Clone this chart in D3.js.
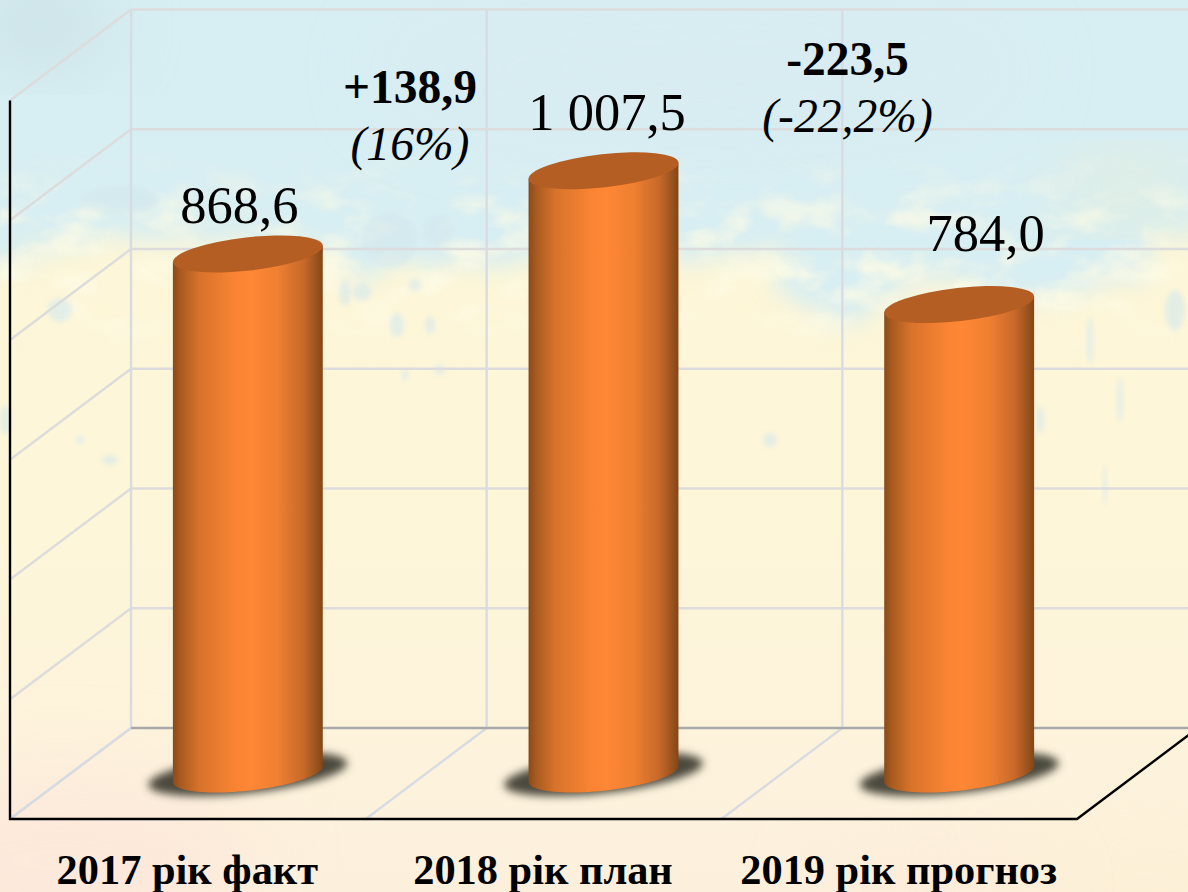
<!DOCTYPE html>
<html lang="uk">
<head>
<meta charset="utf-8">
<script src="https://cdn.jsdelivr.net/npm/d3@7"></script>
<style>
html,body{margin:0;padding:0;background:#fdf5dc;overflow:hidden}
svg{display:block}
text{font-family:"Liberation Serif","Times New Roman",serif;fill:#000}
</style>
</head>
<body>
<svg id="chart" width="1188" height="892"></svg>
<script>
// ---- data ----
const categories = ["2017 рік факт", "2018 рік план", "2019 рік прогноз"];
const values = [868.6, 1007.5, 784.0];
const valueLabels = ["868,6", "1 007,5", "784,0"];
const changeAbs = ["+138,9", "-223,5"];
const changePct = ["(16%)", "(-22,2%)"];
const gridTicks = [0, 200, 400, 600, 800, 1000, 1200];

// ---- layout ----
const W = 1188, H = 892;
const frontLeft = 10, frontRight = 1077, frontBase = 819;
const backDX = 121, backDY = 91;
const midDX = 60, midDY = 45;
const cyl = {a: 75.4, b: 16.6, rot: -6.4};

const svg = d3.select("#chart");
const defs = svg.append("defs");

const x = d3.scaleBand().domain(categories).range([frontLeft, frontRight]);
const yFront = d3.scaleLinear().domain([0, 1200]).range([frontBase, frontBase - 718.5]);
const yBack = v => yFront(v) - backDY;
const yMid = v => yFront(v) - midDY;
const cx = c => x(c) + x.bandwidth() / 2 + midDX;

// ---- background (painted texture approximated) ----
const bg = defs.append("linearGradient").attr("id", "bg").attr("x1", 0).attr("y1", 0).attr("x2", 0).attr("y2", 1);
[[0, "#fdf6d6"], [0.6, "#fdf6d9"], [0.85, "#fdf3dc"], [1, "#fcf0dc"]]
  .forEach(s => bg.append("stop").attr("offset", s[0]).attr("stop-color", s[1]));

const rough = defs.append("filter").attr("id", "rough")
  .attr("x", "-10%").attr("y", "-10%").attr("width", "120%").attr("height", "130%");
rough.append("feTurbulence").attr("type", "fractalNoise").attr("baseFrequency", "0.018 0.03")
  .attr("numOctaves", 4).attr("seed", 7).attr("result", "n");
rough.append("feDisplacementMap").attr("in", "SourceGraphic").attr("in2", "n")
  .attr("scale", 70).attr("xChannelSelector", "R").attr("yChannelSelector", "G").attr("result", "d");
rough.append("feGaussianBlur").attr("in", "d").attr("stdDeviation", 12);

const soft = defs.append("filter").attr("id", "soft")
  .attr("x", "-50%").attr("y", "-50%").attr("width", "200%").attr("height", "200%");
soft.append("feGaussianBlur").attr("stdDeviation", 40);

const blotBlur = defs.append("filter").attr("id", "blot")
  .attr("x", "-50%").attr("y", "-50%").attr("width", "200%").attr("height", "200%");
blotBlur.append("feGaussianBlur").attr("stdDeviation", 2.5);

const grain = defs.append("filter").attr("id", "grain")
  .attr("x", 0).attr("y", 0).attr("width", "100%").attr("height", "100%");
grain.append("feTurbulence").attr("type", "fractalNoise").attr("baseFrequency", "0.02 0.035")
  .attr("numOctaves", 5).attr("seed", 11);
grain.append("feColorMatrix").attr("type", "matrix")
  .attr("values", "0 0 0 0 0.98  0 0 0 0 0.96  0 0 0 0 0.78  3 0 0 0 -1.3");
grain.append("feGaussianBlur").attr("stdDeviation", 1.2);

const fade = defs.append("linearGradient").attr("id", "fade").attr("x1", 0).attr("x2", 0).attr("y1", 0).attr("y2", 1);
[[0, "#000"], [0.3, "#aaa"], [0.65, "#ccc"], [1, "#000"]]
  .forEach(s => fade.append("stop").attr("offset", s[0]).attr("stop-color", s[1]));
defs.append("mask").attr("id", "fadeMask").attr("maskUnits", "userSpaceOnUse")
  .attr("x", 0).attr("y", 150).attr("width", W).attr("height", 220)
  .append("rect").attr("x", 0).attr("y", 150).attr("width", W).attr("height", 220).attr("fill", "url(#fade)");

const bgG = svg.append("g").attr("class", "background");
bgG.append("rect").attr("width", W).attr("height", H).attr("fill", "url(#bg)");

const blueEdge = [[-80,-80],[1270,-80],[1270,205],[1188,220],[1110,280],[1000,300],[900,285],[830,315],[760,255],[640,250],[520,265],[440,265],[300,255],[180,240],[80,240],[-80,265]];
bgG.append("path").attr("d", d3.line().curve(d3.curveCatmullRomClosed)(blueEdge))
  .attr("fill", "#d7eef3").attr("filter", "url(#rough)");

const softPatches = [
  {x: 40, y: 25, rx: 70, ry: 35, c: "#bcd0d2", o: 0.55},
  {x: 60, y: 860, rx: 200, ry: 90, c: "#fde3da", o: 0.55},
  {x: 1150, y: 880, rx: 160, ry: 40, c: "#fdf0d0", o: 0.6},
  {x: 930, y: 890, rx: 110, ry: 40, c: "#fde6d6", o: 0.5},
  {x: 700, y: 70, rx: 320, ry: 70, c: "#d9ecf1", o: 0.8},
  {x: 1130, y: 190, rx: 60, ry: 25, c: "#f4f1c8", o: 0.7}
];
bgG.selectAll("ellipse.soft").data(softPatches).join("ellipse").attr("class", "soft")
  .attr("cx", d => d.x).attr("cy", d => d.y).attr("rx", d => d.rx).attr("ry", d => d.ry)
  .attr("fill", d => d.c).attr("opacity", d => d.o).attr("filter", "url(#soft)");

bgG.append("g").attr("mask", "url(#fadeMask)")
  .append("rect").attr("x", 0).attr("y", 150).attr("width", W).attr("height", 220)
  .attr("filter", "url(#grain)");

const blots = [
  [390,240,28,28],[438,230,16,16],[345,293,6,13],[362,292,9,9],[430,325,5,9],[397,325,7,12],
  [60,310,12,12],[415,285,6,6],[120,200,40,14],[1090,340,3,24],[1175,310,10,20],[1020,390,5,10],
  [1120,400,3,22],[1010,500,2,18],[1105,485,2,20],[290,435,7,4],[5,420,5,15],[80,440,5,4],
  [110,460,8,5],[440,370,5,5],[770,440,7,7],[610,390,6,8],[1040,420,4,14],[405,375,3,6]
];
bgG.selectAll("ellipse.blot").data(blots).join("ellipse").attr("class", "blot")
  .attr("cx", d => d[0]).attr("cy", d => d[1]).attr("rx", d => d[2]).attr("ry", d => d[3])
  .attr("fill", "#d3e8ee").attr("opacity", 0.6).attr("filter", "url(#blot)");

// ---- grid ----
const wallColor = "#dcdcdc", floorBack = "#a9a9a9", wallLower = "#d8dce2";
const grid = svg.append("g").attr("class", "grid").attr("fill", "none").attr("stroke-width", 2.4);

grid.selectAll("line.h").data(gridTicks.slice(1)).join("line").attr("class", "h")
  .attr("x1", frontLeft + backDX).attr("x2", W + 5)
  .attr("y1", yBack).attr("y2", yBack)
  .attr("stroke", wallColor);
grid.selectAll("line.d").data(gridTicks).join("line").attr("class", "d")
  .attr("x1", frontLeft).attr("y1", yFront)
  .attr("x2", frontLeft + backDX).attr("y2", yBack)
  .attr("stroke", wallColor);

const bandEdges = categories.map(c => x(c));
grid.selectAll("line.v").data(bandEdges).join("line").attr("class", "v")
  .attr("x1", d => d + backDX).attr("x2", d => d + backDX)
  .attr("y1", yBack(1200)).attr("y2", yBack(0))
  .attr("stroke", wallLower);
grid.selectAll("line.f").data(bandEdges).join("line").attr("class", "f")
  .attr("x1", d => d).attr("y1", yFront(0))
  .attr("x2", d => d + backDX).attr("y2", yBack(0))
  .attr("stroke", wallLower);
grid.append("line").attr("x1", frontLeft + backDX).attr("x2", W + 5)
  .attr("y1", yBack(0)).attr("y2", yBack(0))
  .attr("stroke", floorBack).attr("stroke-width", 2.4);

// ---- front axes ----
const axisG = svg.append("g").attr("class", "axes").attr("stroke", "#000").attr("stroke-width", 2.4).attr("fill", "none");
axisG.append("path").attr("d", d3.line()([
  [frontLeft, yFront(1200)], [frontLeft, yFront(0)], [frontRight, yFront(0)], [frontRight + backDX, yBack(0)]
]));

// ---- cylinders ----
const g = defs.append("linearGradient").attr("id", "cyl").attr("x1", 0).attr("x2", 1).attr("y1", 0).attr("y2", 0);
[[0, "#8a4a18"], [0.05, "#a85a20"], [0.18, "#d8732b"], [0.42, "#fa8434"], [0.52, "#ff8735"], [0.7, "#ef7f31"], [0.87, "#c8692a"], [0.96, "#98521d"], [1, "#834616"]]
  .forEach(s => g.append("stop").attr("offset", s[0]).attr("stop-color", s[1]));

const shBlur = defs.append("filter").attr("id", "shadow")
  .attr("x", "-30%").attr("y", "-60%").attr("width", "160%").attr("height", "220%");
shBlur.append("feGaussianBlur").attr("stdDeviation", 4.5);

// point on the tilted ellipse outline at parameter t, relative to its centre
const rad = cyl.rot * Math.PI / 180;
const ellipsePt = t => [
  cyl.a * Math.cos(t) * Math.cos(rad) - cyl.b * Math.sin(t) * Math.sin(rad),
  cyl.a * Math.cos(t) * Math.sin(rad) + cyl.b * Math.sin(t) * Math.cos(rad)
];
// parameter where the outline reaches its rightmost point
const tRight = Math.atan2(-cyl.b * Math.sin(rad), cyl.a * Math.cos(rad));
const lowerArc = d3.range(0, 49).map(k => ellipsePt(tRight + Math.PI * k / 48)); // right -> bottom -> left

const bars = svg.append("g").attr("class", "bars").selectAll("g").data(categories).join("g");

bars.append("ellipse").attr("class", "shadow")
  .attr("rx", 100).attr("ry", 19)
  .attr("transform", c => `translate(${cx(c)},${yMid(0)}) rotate(${cyl.rot})`)
  .attr("fill", "#4c493c").attr("filter", "url(#shadow)");

bars.append("path").attr("class", "body")
  .attr("d", (c, i) => {
    const X = cx(c), t = yMid(values[i]), b = yMid(0);
    const R = lowerArc[0], L = lowerArc[lowerArc.length - 1];
    const pts = lowerArc.map(p => [X + p[0], b + p[1]]);
    return d3.line()([[X + R[0], t + R[1]], ...pts, [X + L[0], t + L[1]]]) + "Z";
  })
  .attr("fill", "url(#cyl)");

bars.append("ellipse").attr("class", "top")
  .attr("rx", cyl.a).attr("ry", cyl.b)
  .attr("transform", (c, i) => `translate(${cx(c)},${yMid(values[i])}) rotate(${cyl.rot})`)
  .attr("fill", "#b55e23");

// ---- text ----
const labelDX = [-8.5, 3.5, 26.5];
const labelDY = [-31, -41, -54];
svg.append("g").selectAll("text").data(valueLabels).join("text")
  .attr("x", (d, i) => cx(categories[i]) + labelDX[i])
  .attr("y", (d, i) => yMid(values[i]) + labelDY[i])
  .attr("text-anchor", "middle").attr("font-size", 52.5).text(d => d);

const changeX = [410, 847.5], absY = [103, 75], pctY = [160, 132];
svg.append("g").selectAll("text").data(changeAbs).join("text")
  .attr("x", (d, i) => changeX[i]).attr("y", (d, i) => absY[i])
  .attr("text-anchor", "middle").attr("font-size", 47.5).attr("font-weight", "bold").text(d => d);
svg.append("g").selectAll("text").data(changePct).join("text")
  .attr("x", (d, i) => changeX[i]).attr("y", (d, i) => pctY[i])
  .attr("text-anchor", "middle").attr("font-size", 47.6).attr("font-style", "italic").text(d => d);

svg.append("g").selectAll("text").data(categories).join("text")
  .attr("x", c => x(c) + x.bandwidth() / 2 - 0.5)
  .attr("y", 884)
  .attr("text-anchor", "middle").attr("font-size", 42.4).attr("font-weight", "bold").text(d => d);
</script>
</body>
</html>
